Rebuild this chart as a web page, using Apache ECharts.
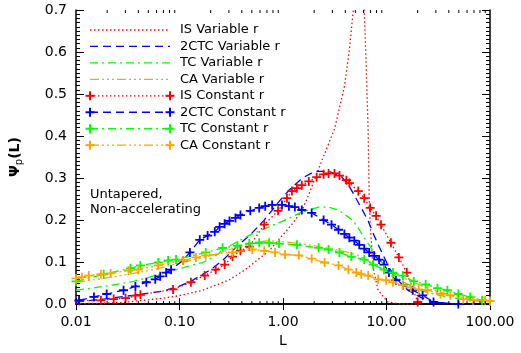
<!DOCTYPE html>
<html><head><meta charset="utf-8">
<script src="https://cdn.jsdelivr.net/npm/echarts/dist/echarts.min.js"></script>
<style>html,body{margin:0;padding:0;background:#fff}#c{width:521px;height:353px}</style>
</head><body><div id="c"></div>
<script>
// ---- tick labels ----
const xTickLabels = ['0.01', '0.10', '1.00', '10.00', '100.00'];
const yTickLabels = ['0.0', '0.1', '0.2', '0.3', '0.4', '0.5', '0.6', '0.7'];
const xMinorTicks = [0.02,0.03,0.04,0.05,0.06,0.07,0.08,0.09,
                     0.2,0.3,0.4,0.5,0.6,0.7,0.8,0.9,
                     2,3,4,5,6,7,8,9,
                     20,30,40,50,60,70,80,90];

// ---- series: IS variable r ----
const isVarL = [0.01,0.0185,0.0288,0.0448,0.0695,0.0989,0.168,0.304,0.433,0.735,1.22,1.52,1.77,2.36,3.15,3.92,4.38,4.78,5.45,6.09,6.37,6.65,6.80,6.95,7.43,8.29,10.3,13.8,20];
const isVarY = [0.001,0.002,0.004,0.009,0.014,0.020,0.033,0.058,0.082,0.127,0.19,0.222,0.26,0.34,0.417,0.518,0.606,0.70,0.85,0.70,0.566,0.41,0.26,0.19,0.087,0.033,0.005,0.0,0.0];

// ---- 2CTC variable r ----
const ctcVarL = [0.01,0.0185,0.0359,0.0695,0.0989,0.1347,0.2001,0.2608,0.3473,0.4834,0.6579,0.9361,1.141,1.520,2.024,2.755,3.670,4.377,4.887,5.702,6.653,7.593,8.858,10.56,12.88,16.06,21.39,28.48,49.39,100];
const ctcVarY = [0.005,0.012,0.021,0.031,0.042,0.057,0.082,0.104,0.134,0.165,0.200,0.247,0.271,0.299,0.316,0.316,0.304,0.280,0.259,0.229,0.198,0.163,0.127,0.087,0.057,0.033,0.016,0.005,0.0,0.0];

// ---- TC variable r ----
const tcVarL = [0.01,0.0185,0.0359,0.0695,0.1206,0.1679,0.2336,0.2608,0.3793,0.5051,0.7345,1.045,1.520,2.211,2.755,3.435,4.281,4.780,5.456,6.091,7.107,8.293,9.890,11.80,14.71,20.02,28.48,41.42,64.38,100];
const tcVarY = [0.033,0.042,0.054,0.073,0.090,0.099,0.118,0.130,0.151,0.167,0.184,0.200,0.219,0.231,0.231,0.224,0.207,0.198,0.177,0.158,0.134,0.111,0.087,0.068,0.052,0.035,0.024,0.016,0.009,0.005];

// ---- CA variable r ----
const caVarL = [0.01,0.0185,0.0359,0.0558,0.0989,0.168,0.234,0.347,0.505,0.735,1.045,1.520,2.211,3.145,4.281,5.337,7.107,9.465,12.88,18.33,26.66,38.77,64.38,100];
const caVarY = [0.052,0.061,0.073,0.082,0.097,0.111,0.120,0.134,0.146,0.151,0.148,0.144,0.137,0.130,0.123,0.116,0.099,0.082,0.068,0.052,0.035,0.024,0.012,0.005];

// ---- IS constant r ----
const isConL = [0.0107,0.0174,0.0231,0.0301,0.0375,0.0419,0.0867,0.129,0.175,0.224,0.273,0.325,0.388,0.473,0.658,0.896,1.092,1.219,1.361,1.520,1.774,2.115,2.468,2.755,3.145,3.512,4.097,4.377,5.337,6.091,6.953,7.935,8.858,11.04,13.17,15.71,20.02];
const isConY = [0.008,0.009,0.012,0.014,0.020,0.022,0.035,0.052,0.068,0.082,0.094,0.113,0.127,0.137,0.189,0.222,0.252,0.269,0.276,0.283,0.292,0.302,0.309,0.311,0.311,0.306,0.295,0.288,0.269,0.252,0.229,0.210,0.189,0.146,0.111,0.075,0.005];

// ---- 2CTC constant r ----
const ctcConL = [0.0107,0.0149,0.0198,0.0288,0.0375,0.0478,0.0583,0.0651,0.0743,0.0829,0.108,0.126,0.157,0.187,0.219,0.244,0.273,0.304,0.347,0.388,0.483,0.589,0.673,0.785,0.978,1.141,1.302,1.520,1.894,2.468,2.943,3.435,3.920,4.377,4.887,5.456,6.091,6.801,7.593,8.476,9.465,10.56,12.33,14.38,17.93,22.35,28.48,49.39];
const ctcConY = [0.009,0.017,0.024,0.033,0.042,0.052,0.059,0.066,0.075,0.082,0.104,0.123,0.153,0.163,0.172,0.184,0.191,0.198,0.205,0.212,0.222,0.229,0.233,0.236,0.236,0.233,0.231,0.224,0.217,0.200,0.189,0.177,0.167,0.158,0.151,0.141,0.132,0.123,0.115,0.106,0.094,0.075,0.057,0.045,0.033,0.021,0.005,0.0];

// ---- TC constant r ----
const tcConL = [0.01,0.0185,0.0336,0.0419,0.0623,0.0776,0.0926,0.179,0.261,0.363,0.473,0.589,0.735,0.916,1.361,2.211,2.755,3.512,4.574,6.091,7.428,9.465,11.54,14.38,18.33,23.88,31.11,38.77,49.39,64.38,83.84,100];
const tcConY = [0.054,0.071,0.085,0.092,0.099,0.104,0.106,0.123,0.134,0.139,0.144,0.146,0.146,0.144,0.141,0.134,0.130,0.123,0.113,0.106,0.094,0.082,0.075,0.068,0.054,0.047,0.038,0.033,0.024,0.017,0.009,0.007];

// ---- CA constant r ----
const caConL = [0.01,0.0114,0.0133,0.0174,0.0216,0.0322,0.0401,0.0623,0.108,0.144,0.179,0.325,0.505,0.658,0.838,1.045,1.422,1.894,2.523,3.435,4.281,5.107,5.702,6.653,8.293,9.890,11.54,14.38,17.16,20.47,24.95,33.22,41.42,55.15,68.77,89.59,100];
const caConY = [0.061,0.064,0.068,0.071,0.073,0.080,0.082,0.092,0.104,0.111,0.116,0.123,0.130,0.127,0.123,0.118,0.116,0.108,0.099,0.092,0.082,0.075,0.071,0.068,0.059,0.057,0.052,0.045,0.040,0.035,0.033,0.024,0.021,0.012,0.009,0.009,0.007];

const legendNames = ['IS Variable r','2CTC Variable r','TC Variable r','CA Variable r',
                     'IS Constant r','2CTC Constant r','TC Constant r','CA Constant r'];

// ---- styles ----
const RED = '#ff0000', BLUE = '#0000ff', GREEN = '#00ff00', ORANGE = '#ffa500';
const DOT = [1.5, 2.5], DASH = [8, 5], DASHDOT = [8, 4, 2, 4], DASH3DOT = [9, 3, 2, 3, 2, 3, 2, 3];
const styles = [
  {c: RED, d: DOT, sym: false}, {c: BLUE, d: DASH, sym: false},
  {c: GREEN, d: DASHDOT, sym: false}, {c: ORANGE, d: DASH3DOT, sym: false},
  {c: RED, d: DOT, sym: true}, {c: BLUE, d: DASH, sym: true},
  {c: GREEN, d: DASHDOT, sym: true}, {c: ORANGE, d: DASH3DOT, sym: true}
];
const dataSets = [[isVarL,isVarY],[ctcVarL,ctcVarY],[tcVarL,tcVarY],[caVarL,caVarY],
                  [isConL,isConY],[ctcConL,ctcConY],[tcConL,tcConY],[caConL,caConY]];
const PLUS = 'path://M4,0 L6,0 L6,4 L10,4 L10,6 L6,6 L6,10 L4,10 L4,6 L0,6 L0,4 L4,4 Z';
const FONT = '"DejaVu Sans", sans-serif';

const series = dataSets.map((ds, i) => ({
  type: 'line', name: legendNames[i], xAxisIndex: 0, yAxisIndex: 0,
  data: ds[0].map((l, k) => [l, ds[1][k]]),
  showSymbol: styles[i].sym, symbol: styles[i].sym ? PLUS : 'none', symbolSize: 9,
  itemStyle: {color: styles[i].c},
  lineStyle: {color: styles[i].c, width: 1.3, type: styles[i].d},
  clip: true, animation: false, z: 2 + i
}));
series.push({
  type: 'custom', xAxisIndex: 0, yAxisIndex: 0, silent: true, animation: false, z: 20,
  data: xMinorTicks.map(v => [v, 0.35]),
  renderItem: function (params, api) {
    const cs = params.coordSys;
    const x = api.coord([api.value(0), 0.35])[0];
    const b = cs.y + cs.height;
    return {type: 'group', children: [
      {type: 'line', shape: {x1: x, y1: b, x2: x, y2: b - 3}, style: {stroke: '#000', lineWidth: 1}},
      {type: 'line', shape: {x1: x, y1: cs.y, x2: x, y2: cs.y + 3}, style: {stroke: '#000', lineWidth: 1}}
    ]};
  }
});

// ---- legend drawn as graphic ----
const graphic = [];
const lgX1 = 90, lgX2 = 170, lgY0 = 30, lgDy = 16.45;
legendNames.forEach((n, i) => {
  const y = lgY0 + i * lgDy;
  graphic.push({type: 'line', shape: {x1: lgX1, y1: y, x2: lgX2, y2: y},
    style: {stroke: styles[i].c, lineWidth: 1.3, lineDash: styles[i].d}});
  if (styles[i].sym) {
    [lgX1, lgX2].forEach(cx => {
      graphic.push({type: 'rect', shape: {x: cx - 4.5, y: y - 1, width: 9, height: 2}, style: {fill: styles[i].c}});
      graphic.push({type: 'rect', shape: {x: cx - 1, y: y - 4.5, width: 2, height: 9}, style: {fill: styles[i].c}});
    });
  }
  graphic.push({type: 'text', x: 180, y: y, style: {text: n, font: '13px ' + FONT, fill: '#000', verticalAlign: 'middle'}});
});
graphic.push({type: 'text', x: 90, y: 195, style: {text: 'Untapered,', font: '13px ' + FONT, fill: '#000', verticalAlign: 'middle'}});
graphic.push({type: 'text', x: 90, y: 210, style: {text: 'Non-accelerating', font: '13px ' + FONT, fill: '#000', verticalAlign: 'middle'}});

const axisLine = {show: true, lineStyle: {color: '#000', width: 1.5}};
const chart = echarts.init(document.getElementById('c'), null, {renderer: 'canvas'});
chart.setOption({
  animation: false,
  backgroundColor: '#fff',
  grid: {left: 72, right: 31, top: 10, bottom: 46, containLabel: false},
  xAxis: [{
    type: 'log', logBase: 10, min: 0.01, max: 100, position: 'bottom',
    name: 'L', nameLocation: 'middle', nameGap: 29,
    nameTextStyle: {fontFamily: FONT, fontSize: 14, color: '#000'},
    axisLine: axisLine, splitLine: {show: false},
    axisTick: {show: true, inside: true, length: 6, lineStyle: {color: '#000', width: 1}},
    axisLabel: {margin: 11, fontFamily: FONT, fontSize: 14, color: '#000',
      formatter: v => xTickLabels[Math.round(Math.log10(v)) + 2]}
  }, {
    type: 'log', logBase: 10, min: 0.01, max: 100, position: 'top',
    axisLine: axisLine, splitLine: {show: false},
    axisTick: {show: true, inside: true, length: 6, lineStyle: {color: '#000', width: 1}},
    axisLabel: {show: false}
  }],
  yAxis: [{
    type: 'value', min: 0, max: 0.7, interval: 0.1, position: 'left',
    name: '{a|Ψ}{s|p}{a|(L)}', nameLocation: 'middle', nameGap: 52, nameRotate: 90,
    nameTextStyle: {color: '#000', rich: {
      a: {fontFamily: FONT, fontSize: 14, color: '#000', fontWeight: 'bold', lineHeight: 18, verticalAlign: 'middle'},
      s: {fontFamily: FONT, fontSize: 10, color: '#000', lineHeight: 18, verticalAlign: 'bottom'}}},
    axisLine: axisLine, splitLine: {show: false},
    axisTick: {show: true, inside: true, length: 8, lineStyle: {color: '#000', width: 1}},
    minorTick: {show: true, splitNumber: 10, length: 4, lineStyle: {color: '#000', width: 1}},
    minorSplitLine: {show: false},
    axisLabel: {margin: 9, fontFamily: FONT, fontSize: 14, color: '#000',
      formatter: v => yTickLabels[Math.round(v * 10)]}
  }, {
    type: 'value', min: 0, max: 0.7, interval: 0.1, position: 'right',
    axisLine: axisLine, splitLine: {show: false},
    axisTick: {show: true, inside: true, length: 8, lineStyle: {color: '#000', width: 1}},
    minorTick: {show: true, splitNumber: 10, length: 4, lineStyle: {color: '#000', width: 1}},
    axisLabel: {show: false}
  }],
  series: series,
  graphic: graphic
});
</script></body></html>
